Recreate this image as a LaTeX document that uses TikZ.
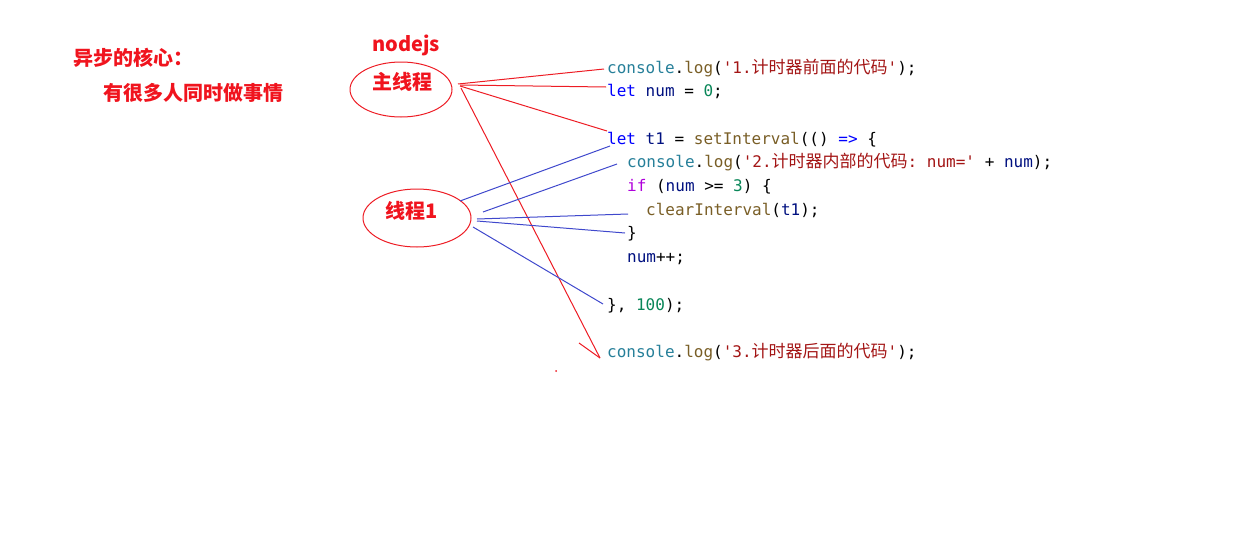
\documentclass[tikz,border=0pt]{standalone}
\usepackage{fontspec}
\usetikzlibrary{shapes.geometric}
\setmonofont{DejaVu Sans Mono}
\newfontfamily\cjk{Noto Sans CJK SC}
\definecolor{lblred}{HTML}{F0141E}
\definecolor{lnred}{HTML}{ED1C24}
\definecolor{lnblue}{HTML}{3F48CC}
\definecolor{cteal}{HTML}{267F99}
\definecolor{cbrown}{HTML}{795E26}
\definecolor{cstr}{HTML}{A31515}
\definecolor{ckey}{HTML}{0000FF}
\definecolor{cvar}{HTML}{001080}
\definecolor{cnum}{HTML}{098658}
\definecolor{cctl}{HTML}{AF00DB}
\newcommand\kc[2]{\textcolor{#1}{#2}}
\newcommand\zh[1]{{\cjk\fontsize{17}{17}\selectfont #1}}
\begin{document}
\begin{tikzpicture}[x=1pt,y=-1pt,
  lbl/.style={text=lblred,font=\cjk\bfseries\fontsize{20}{20}\selectfont,anchor=west,inner sep=0pt},
  code/.style={font=\fontsize{16}{16}\ttfamily,anchor=base west,inner sep=0pt},
  oval/.style={draw=lnred,line width=1pt,ellipse,inner sep=0pt},
  redln/.style={draw=lnred,line width=1pt},
  blueln/.style={draw=lnblue,line width=1pt}]
\useasboundingbox (0,0) rectangle (1252,546);
% labels
\node[lbl] (core) at (73,58) {异步的核心：};
\node[lbl] (many) at (103,93) {有很多人同时做事情};
\node[lbl] (nodejs) at (372,45) {nodejs};
\node[lbl] (mainT) at (372,82) {主线程};
\node[lbl] (thrT) at (385,211) {线程1};
\node[oval,minimum width=102,minimum height=55] (mainE) at (401,89.5) {};
\node[oval,minimum width=108,minimum height=58] (thrE) at (417,218) {};
% code
\node[code] (c1) at (607,73) {\kc{cteal}{console}.\kc{cbrown}{log}(\kc{cstr}{'1.\zh{计时器前面的代码}'});};
\node[code] (c2) at (607,96.7) {\kc{ckey}{let} \kc{cvar}{num} = \kc{cnum}{0};};
\node[code] (c4) at (607,144.1) {\kc{ckey}{let} \kc{cvar}{t1} = \kc{cbrown}{setInterval}(() \kc{ckey}{=>} \{};
\node[code] (c5) at (627,167.8) {\kc{cteal}{console}.\kc{cbrown}{log}(\kc{cstr}{'2.\zh{计时器内部的代码}: num='} + \kc{cvar}{num});};
\node[code] (c6) at (627,191.5) {\kc{cctl}{if} (\kc{cvar}{num} >= \kc{cnum}{3}) \{};
\node[code] (c7) at (646,215.2) {\kc{cbrown}{clearInterval}(\kc{cvar}{t1});};
\node[code] (c8) at (627,238.9) {\}};
\node[code] (c9) at (627,262.6) {\kc{cvar}{num}++;};
\node[code] (c11) at (607,310) {\}, \kc{cnum}{100});};
\node[code] (c13) at (607,357.4) {\kc{cteal}{console}.\kc{cbrown}{log}(\kc{cstr}{'3.\zh{计时器后面的代码}'});};
% connector points
\coordinate (m1) at (458,84);
\coordinate (m2) at (460,85);
\coordinate (m3) at (460,86);
\coordinate (m4) at (461,88);
\coordinate (e1) at (604,69);
\coordinate (e2) at (606,87);
\coordinate (e3) at (607,131);
\coordinate (e4) at (600,358);
\coordinate (h1) at (579,343);
\coordinate (dot) at (556,371);
\coordinate (t1) at (460,201);
\coordinate (t2) at (483,212);
\coordinate (t3) at (477,219);
\coordinate (t4) at (477,221);
\coordinate (t5) at (473,227);
\coordinate (f1) at (610,146);
\coordinate (f2) at (617,164);
\coordinate (f3) at (628,214);
\coordinate (f4) at (625,233);
\coordinate (f5) at (603,304);
% red connectors
\draw[redln] (m1) -- (e1);
\draw[redln] (m2) -- (e2);
\draw[redln] (m3) -- (e3);
\draw[redln] (m4) -- (e4);
\draw[redln] (h1) -- (e4);
\fill[lnred] (dot) circle (1pt);
% blue connectors
\draw[blueln] (t1) -- (f1);
\draw[blueln] (t2) -- (f2);
\draw[blueln] (t3) -- (f3);
\draw[blueln] (t4) -- (f4);
\draw[blueln] (t5) -- (f5);
\end{tikzpicture}
\end{document}
